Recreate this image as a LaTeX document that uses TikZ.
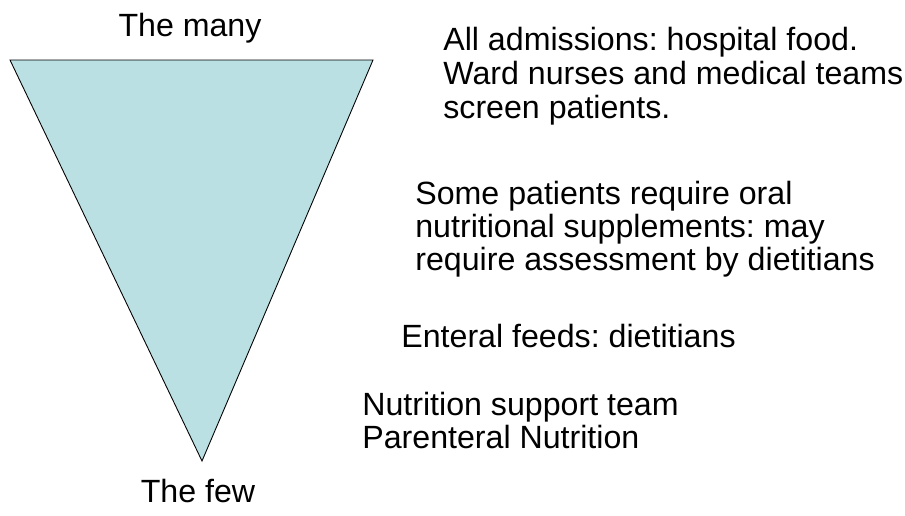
\documentclass[tikz,border=0pt]{standalone}
\usepackage{fontspec}
\setmainfont{Liberation Sans}
\usepackage{tikz}
\definecolor{funnelblue}{RGB}{187,224,227}

\begin{document}
\frenchspacing
\begin{tikzpicture}[
  txt/.style={font=\fontsize{18.3}{18.6}\selectfont, inner sep=0pt, align=left, anchor=north west}
]
\useasboundingbox (0,0) rectangle (18.1,-10.3);
\filldraw[fill=funnelblue, draw=black, line width=0.5pt] (0.2,-1.2) -- (7.46,-1.2) -- (4.04,-9.22) -- cycle;
\node[txt, anchor=base] (many) at (3.8,-0.72) {The many};
\node[txt, anchor=base] (few) at (3.96,-10.05) {The few};
\node[txt, font=\fontsize{18.3}{19.4}\selectfont] (food) at (8.86,-0.54) {All admissions: hospital food.\\Ward nurses and medical teams\\screen patients.};
\node[txt] (ons) at (8.30,-3.62) {Some patients require oral\\nutritional supplements: may\\require assessment by dietitians};
\node[txt] (enteral) at (8.02,-6.48) {Enteral feeds: dietitians};
\node[txt] (pn) at (7.24,-7.84) {Nutrition support team\\Parenteral Nutrition};
\end{tikzpicture}
\end{document}
